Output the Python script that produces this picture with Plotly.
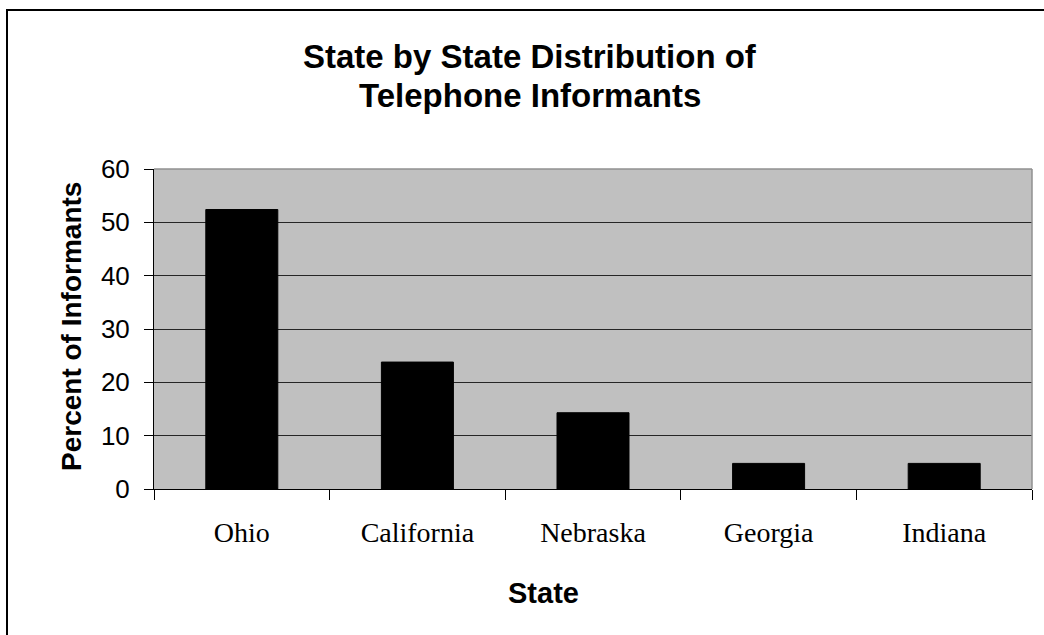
import plotly.graph_objects as go

# Share of telephone informants by state (percent)
states = ["Ohio", "California", "Nebraska", "Georgia", "Indiana"]
percents = [52.4, 23.8, 14.3, 4.8, 4.8]
y_ticks = [0, 10, 20, 30, 40, 50, 60]
title_lines = ["State by State Distribution of", "Telephone Informants"]

SANS = "Liberation Sans, Arial, sans-serif"
SERIF = "Liberation Serif, Times New Roman, serif"

W, H = 1044, 635
L, R, T, B = 154, 12, 169, 146
PW, PH = W - L - R, H - T - B


def px_x(x):
    return (x - L) / PW


def px_y(y):
    return (H - B - y) / PH


fig = go.Figure(
    go.Bar(
        x=states,
        y=percents,
        marker=dict(color="black", line=dict(color="black", width=1)),
        width=0.41,
    )
)

fig.update_layout(
    width=W,
    height=H,
    margin=dict(l=L, r=R, t=T, b=B, pad=0),
    paper_bgcolor="white",
    plot_bgcolor="#c0c0c0",
    showlegend=False,
    bargap=0.59,
)

fig.update_xaxes(
    type="category",
    tickson="boundaries",
    ticks="outside",
    ticklen=10,
    tickcolor="black",
    tickwidth=1,
    showline=True,
    linecolor="black",
    linewidth=1,
    showgrid=False,
    tickfont=dict(family=SERIF, size=28, color="black"),
    ticklabelstandoff=18,
)

fig.update_yaxes(
    range=[0, 60],
    tickvals=y_ticks,
    ticks="outside",
    ticklen=9,
    tickcolor="black",
    tickwidth=1,
    showline=True,
    linecolor="black",
    linewidth=1,
    showgrid=True,
    gridcolor="#262626",
    gridwidth=1,
    zeroline=False,
    tickfont=dict(family=SANS, size=26, color="black"),
    ticklabelstandoff=9,
)

# plot-area frame (top and right edges) in grey
fig.add_shape(type="line", xref="paper", yref="paper", x0=0, x1=1, y0=1, y1=1,
              line=dict(color="#909090", width=1.5), layer="above")
fig.add_shape(type="line", xref="paper", yref="paper", x0=1, x1=1, y0=0, y1=1,
              line=dict(color="#909090", width=1.5), layer="above")

# outer chart border
fig.add_shape(type="rect", xref="paper", yref="paper",
              x0=px_x(7), x1=px_x(1070), y0=px_y(660), y1=px_y(10),
              line=dict(color="black", width=2), fillcolor="rgba(0,0,0,0)")

# two-line chart title, one annotation per line for tighter spacing
for line, yc in zip(title_lines, [57, 95]):
    fig.add_annotation(
        text=f"<b>{line}</b>",
        xref="paper", yref="paper", x=px_x(530), y=px_y(yc),
        xanchor="center", yanchor="middle", showarrow=False,
        font=dict(family=SANS, size=33, color="black"),
    )
fig.add_annotation(
    text="<b>Percent of Informants</b>",
    xref="paper", yref="paper", x=px_x(71), y=px_y(327),
    xanchor="center", yanchor="middle", textangle=-90, showarrow=False,
    font=dict(family=SANS, size=28, color="black"),
)
fig.add_annotation(
    text="<b>State</b>",
    xref="paper", yref="paper", x=px_x(543), y=px_y(593),
    xanchor="center", yanchor="middle", showarrow=False,
    font=dict(family=SANS, size=29, color="black"),
)

fig.write_html("out.html")
